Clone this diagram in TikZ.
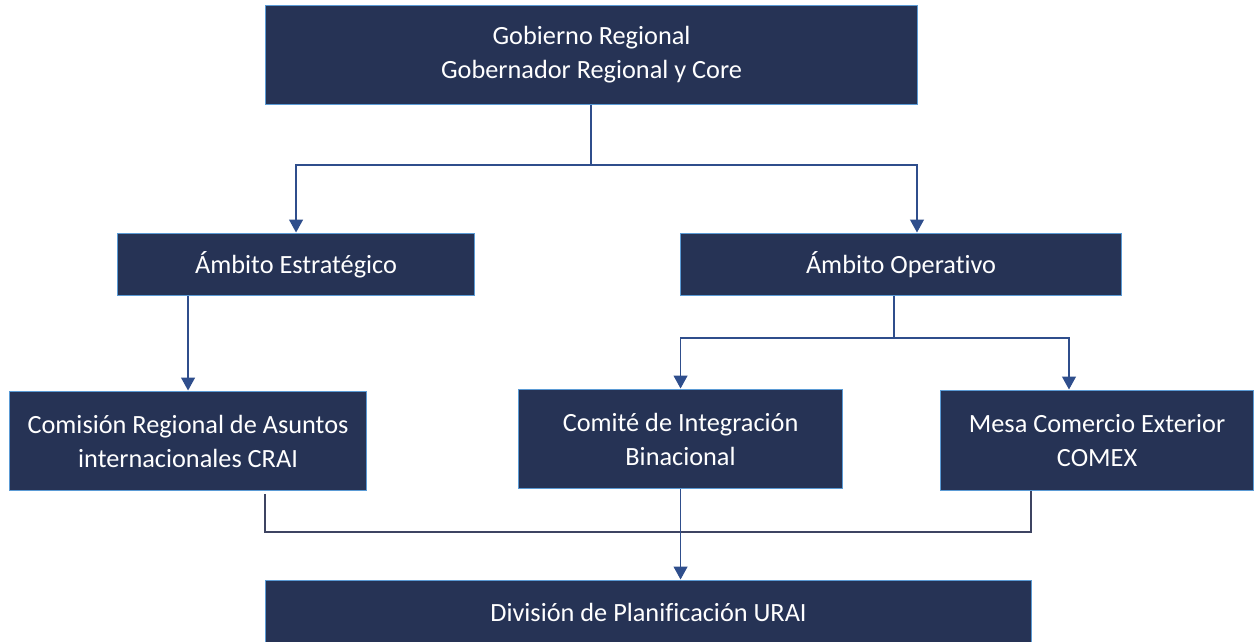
\documentclass[tikz,border=0pt]{standalone}
\usepackage{fontspec}
\setmainfont{Carlito}[Ligatures=NoCommon]
\usetikzlibrary{arrows.meta}
\definecolor{boxfill}{RGB}{38,51,85}
\definecolor{boxedge}{RGB}{91,155,213}
\definecolor{linecol}{RGB}{47,78,140}
\definecolor{botline}{RGB}{62,68,98}
\tikzset{
  box/.style={rectangle, fill=boxfill, draw=boxedge, line width=1.1pt, text=white,
    align=center, inner sep=0pt, anchor=north west, font=\fontsize{26.3}{34}\selectfont},
  conn/.style={draw=linecol, line width=1.3pt},
  arr/.style={conn, -{Triangle[width=14pt,length=13pt]}, shorten >=0.5pt},
  lowline/.style={draw=botline, line width=1.3pt}
}
\begin{document}
\begin{tikzpicture}[x=1pt,y=-1pt]
\useasboundingbox (0,0) rectangle (1258,642);
\clip (0,0) rectangle (1258,642);
\node[box, minimum width=652pt, minimum height=99pt] (top) at (265,5)
  {Gobierno Regional\\Gobernador Regional y Core};
\node[box, minimum width=357pt, minimum height=62pt] (estr) at (117,233) {Ámbito Estratégico};
\node[box, minimum width=441pt, minimum height=62pt] (oper) at (680,233) {Ámbito Operativo};
\node[box, minimum width=357pt, minimum height=99pt] (comision) at (9,391)
  {Comisión Regional de Asuntos\\internacionales CRAI};
\node[box, minimum width=324pt, minimum height=99pt] (comite) at (518,389)
  {Comité de Integración\\Binacional};
\node[box, minimum width=313pt, minimum height=100pt] (mesa) at (940,390)
  {Mesa Comercio Exterior\\COMEX};
\node[box, minimum width=766pt, minimum height=64pt] (division) at (265,580)
  {División de Planificación URAI};

\coordinate (j1) at (591,165);
\draw[conn] (j1 |- top.south) -- (j1);
\draw[arr] (j1) -| (estr.north);
\draw[arr] (j1) -| ([xshift=237pt]oper.north west);

\draw[arr] (estr.south -| comision.north) -- (comision.north);

\coordinate (j2) at (894,338);
\draw[conn] ([xshift=214pt]oper.south west) -- (j2);
\draw[arr] (j2) -| (comite.north);
\draw[arr] (j2) -| ([xshift=129pt]mesa.north west);

\coordinate (j3) at (1031,532);
\draw[lowline] ([xshift=256pt,yshift=-3pt]comision.south west) |- (j3) -- (j3 |- mesa.south);
\draw[arr] (comite.south) -- (comite.south |- division.north);
\end{tikzpicture}
\end{document}
